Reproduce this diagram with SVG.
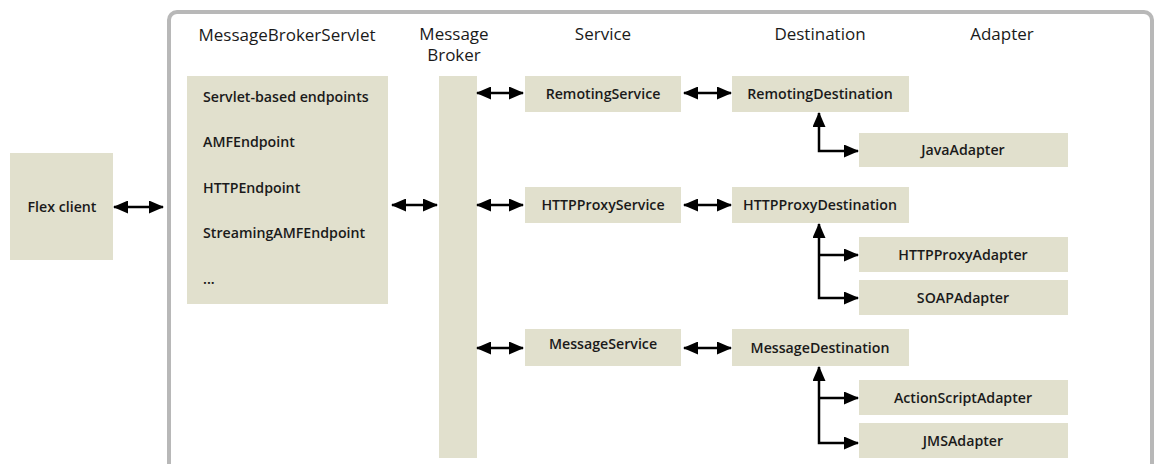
<svg xmlns="http://www.w3.org/2000/svg" width="1160" height="464" viewBox="0 0 1160 464">
<style>
.box{fill:#e1e0cd}
.t{font-family:"Open Sans","Liberation Sans",sans-serif;font-weight:600;font-size:14.2px;fill:#1a1a1a}
.h{font-family:"Open Sans","Liberation Sans",sans-serif;font-weight:500;font-size:17px;fill:#1a1a1a;text-anchor:middle}
.c{text-anchor:middle}
.ln{fill:none;stroke:#000;stroke-width:2.5}
</style>
<defs>
<marker id="ah" viewBox="0 0 15 13" refX="14" refY="6.5" markerWidth="15" markerHeight="13" markerUnits="userSpaceOnUse" orient="auto-start-reverse">
<path d="M0,0 L15,6.5 L0,13 z" fill="#000"/>
</marker>
</defs>
<rect x="0" y="0" width="1160" height="464" fill="#fff"/>
<rect id="frame" x="169" y="12" width="983" height="460" rx="8" fill="none" stroke="#b8b8b8" stroke-width="4"/>
<g id="headers">
<text class="h" x="287" y="41">MessageBrokerServlet</text>
<text class="h" x="454" y="40">Message</text>
<text class="h" x="454" y="61">Broker</text>
<text class="h" x="603" y="40">Service</text>
<text class="h" x="820" y="40">Destination</text>
<text class="h" x="1002" y="40">Adapter</text>
</g>
<g id="flex-client"><rect class="box" x="10" y="153" width="103" height="107"/><text class="t c" x="62" y="212">Flex client</text></g>
<g id="servlet"><rect class="box" x="187" y="76" width="201" height="228"/>
<text class="t" x="203" y="102">Servlet-based endpoints</text>
<text class="t" x="203" y="147">AMFEndpoint</text>
<text class="t" x="203" y="193">HTTPEndpoint</text>
<text class="t" x="203" y="238">StreamingAMFEndpoint</text>
<text class="t" x="203" y="284">...</text>
</g>
<g id="broker"><rect class="box" x="439" y="76" width="38" height="382"/></g>
<g id="remoting-service"><rect class="box" x="525" y="76" width="156" height="36"/><text class="t c" x="603" y="99">RemotingService</text></g>
<g id="httpproxy-service"><rect class="box" x="525" y="187" width="156" height="36"/><text class="t c" x="603" y="210">HTTPProxyService</text></g>
<g id="message-service"><rect class="box" x="525" y="329" width="156" height="37"/><text class="t c" x="603" y="349">MessageService</text></g>
<g id="remoting-destination"><rect class="box" x="732" y="76" width="177" height="36"/><text class="t c" x="820" y="99">RemotingDestination</text></g>
<g id="httpproxy-destination"><rect class="box" x="732" y="187" width="177" height="36"/><text class="t c" x="820" y="210">HTTPProxyDestination</text></g>
<g id="message-destination"><rect class="box" x="732" y="329" width="177" height="37"/><text class="t c" x="820" y="353">MessageDestination</text></g>
<g id="java-adapter"><rect class="box" x="859" y="133" width="209" height="34"/><text class="t c" x="963" y="155">JavaAdapter</text></g>
<g id="httpproxy-adapter"><rect class="box" x="859" y="237" width="209" height="35"/><text class="t c" x="963" y="260">HTTPProxyAdapter</text></g>
<g id="soap-adapter"><rect class="box" x="859" y="280" width="209" height="35"/><text class="t c" x="963" y="303">SOAPAdapter</text></g>
<g id="actionscript-adapter"><rect class="box" x="859" y="380" width="209" height="35"/><text class="t c" x="963" y="403">ActionScriptAdapter</text></g>
<g id="jms-adapter"><rect class="box" x="859" y="423" width="209" height="35"/><text class="t c" x="963" y="446">JMSAdapter</text></g>
<g id="connectors">
<path class="ln" d="M114,207 H163" marker-start="url(#ah)" marker-end="url(#ah)"/>
<path class="ln" d="M392,205 H437" marker-start="url(#ah)" marker-end="url(#ah)"/>
<path class="ln" d="M477,93 H523" marker-start="url(#ah)" marker-end="url(#ah)"/>
<path class="ln" d="M477,205 H523" marker-start="url(#ah)" marker-end="url(#ah)"/>
<path class="ln" d="M477,348 H523" marker-start="url(#ah)" marker-end="url(#ah)"/>
<path class="ln" d="M684,93 H731" marker-start="url(#ah)" marker-end="url(#ah)"/>
<path class="ln" d="M684,205 H731" marker-start="url(#ah)" marker-end="url(#ah)"/>
<path class="ln" d="M684,348 H731" marker-start="url(#ah)" marker-end="url(#ah)"/>
<path class="ln" d="M819,113 V151 H858" marker-start="url(#ah)" marker-end="url(#ah)"/>
<path class="ln" d="M819,224 V298 H858" marker-start="url(#ah)" marker-end="url(#ah)"/>
<path class="ln" d="M819,255 H858" marker-end="url(#ah)"/>
<path class="ln" d="M819,367 V443 H858" marker-start="url(#ah)" marker-end="url(#ah)"/>
<path class="ln" d="M819,398 H858" marker-end="url(#ah)"/>
</g>
</svg>
